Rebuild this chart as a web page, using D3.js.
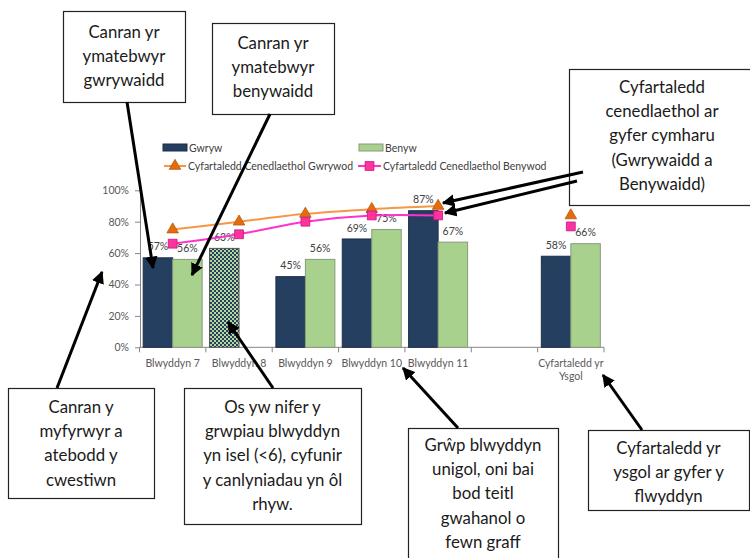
<!DOCTYPE html>
<html>
<head>
<meta charset="utf-8">
<script src="https://cdn.jsdelivr.net/npm/d3@7"></script>
<style>
  body{margin:0;background:#fff;}
  svg{font-family:Lato,"Open Sans",sans-serif;}
</style>
</head>
<body>
<svg width="750" height="558"></svg>
<script>
// categories on the x axis ('' is the empty slot before the school average)
const categories=['Blwyddyn 7','Blwyddyn 8','Blwyddyn 9','Blwyddyn 10','Blwyddyn 11','','Cyfartaledd yr Ysgol'];
const tickLabels=[['Blwyddyn 7'],['Blwyddyn 8'],['Blwyddyn 9'],['Blwyddyn 10'],['Blwyddyn 11'],[''],['Cyfartaledd yr','Ysgol']];
const gwryw=[57,null,45,69,87,null,58];
const benyw=[56,null,56,75,67,null,66];
// year 8 is too small, so boys+girls combined
const cyfunolCats=['Blwyddyn 8'];
const cyfunol=[63];
const cenedlGwrywod=[75,80,85,88,90,null,84];
const cenedlBenywod=[66,72,80,84,84,null,77];
const yTicks=[0,20,40,60,80,100];

const svg=d3.select('svg');
const navy='#243f60', green='#a9d18e', orange='#f79646', pink='#ff33cc';

const defs=svg.append('defs');
const pat=defs.append('pattern')
  .attr('id','check').attr('width',4).attr('height',4)
  .attr('patternUnits','userSpaceOnUse');
pat.append('rect').attr('width',4).attr('height',4).attr('fill','#b7d69a');
pat.append('rect').attr('width',2).attr('height',2).attr('fill',navy);
pat.append('rect').attr('x',2).attr('y',2).attr('width',2).attr('height',2).attr('fill',navy);

defs.append('marker')
  .attr('id','arrow').attr('viewBox','0 0 10 10')
  .attr('refX',9).attr('refY',5)
  .attr('markerWidth',4.2).attr('markerHeight',4.2)
  .attr('markerUnits','strokeWidth')
  .attr('orient','auto')
  .append('path').attr('d','M0,0 L10,5 L0,10 Z').attr('fill','#000');

const x=d3.scaleBand().domain(categories).range([139.5,604]).padding(0);
const inner=d3.scaleBand().domain(['g','b']).range([0,x.bandwidth()]).paddingOuter(0.125);
const y=d3.scaleLinear().domain([0,100]).range([347.3,190.3]);

// y axis
const yAxis=svg.append('g').attr('transform','translate(140,0)')
  .call(d3.axisLeft(y).tickValues(yTicks).tickFormat(d=>d+'%').tickSize(5).tickSizeOuter(0).tickPadding(6));
yAxis.select('.domain').attr('stroke','#868686');
yAxis.selectAll('.tick line').attr('stroke','#868686');
yAxis.selectAll('text').attr('fill','#595959').style('font-size','10.5px').style('font-family','Lato');

// x axis
const xAxis=svg.append('g').attr('transform','translate(0,347.3)');
xAxis.append('line').attr('x1',x.range()[0]).attr('x2',x.range()[1]).attr('stroke','#868686');
xAxis.selectAll('.bt').data(categories.concat(['end'])).enter().append('line')
  .attr('x1',(d,i)=>x.range()[0]+i*x.step()).attr('x2',(d,i)=>x.range()[0]+i*x.step())
  .attr('y1',0).attr('y2',5).attr('stroke','#868686');
const xl=xAxis.selectAll('.xl').data(categories).enter().append('text')
  .attr('text-anchor','middle').attr('fill','#595959').style('font-size','10.5px');
xl.each(function(d,i){
  d3.select(this).selectAll('tspan').data(tickLabels[i]).enter().append('tspan')
    .attr('x',x(d)+x.bandwidth()/2).attr('y',(t,j)=>20+j*13).text(t=>t);
});

// bars
const bars=svg.append('g');
function drawBars(vals,key,fill,stroke){
  const data=categories.map((c,i)=>({c,v:vals[i]})).filter(d=>d.v!=null);
  bars.selectAll('.b'+key).data(data).enter().append('rect')
    .attr('x',d=>x(d.c)+inner(key)).attr('width',inner.bandwidth())
    .attr('y',d=>y(d.v)).attr('height',d=>y(0)-y(d.v))
    .attr('fill',fill).attr('stroke',stroke).attr('stroke-width',1);
  bars.selectAll('.l'+key).data(data).enter().append('text')
    .attr('x',d=>x(d.c)+inner(key)+inner.bandwidth()/2)
    .attr('y',d=>y(d.v)-11).attr('dy','0.35em')
    .attr('text-anchor','middle').attr('fill','#404040').style('font-size','10.5px')
    .text(d=>d.v+'%');
}
drawBars(gwryw,'g',navy,'#1b2f48');
drawBars(benyw,'b',green,'#8a9a7e');
const cdata=cyfunolCats.map((c,i)=>({c,v:cyfunol[i]}));
bars.selectAll('.bc').data(cdata).enter().append('rect')
  .attr('x',d=>x(d.c)+inner('g')).attr('width',inner.bandwidth())
  .attr('y',d=>y(d.v)).attr('height',d=>y(0)-y(d.v))
  .attr('fill','url(#check)').attr('stroke','#555').attr('stroke-width',1);
bars.selectAll('.lc').data(cdata).enter().append('text')
  .attr('x',d=>x(d.c)+inner('g')+inner.bandwidth()/2)
  .attr('y',d=>y(d.v)-11).attr('dy','0.35em')
  .attr('text-anchor','middle').attr('fill','#404040').style('font-size','10.5px')
  .text(d=>d.v+'%');

// national average lines
const cx=c=>x(c)+x.bandwidth()/2;
const line=d3.line().defined(d=>d.v!=null).x(d=>cx(d.c)).y(d=>y(d.v)).curve(d3.curveCatmullRom);
const tri=d3.symbol().type(d3.symbolTriangle).size(58);
const sq=d3.symbol().type(d3.symbolSquare).size(78);
function drawNat(vals,color,sym,fill,stroke){
  const data=categories.map((c,i)=>({c,v:vals[i]}));
  svg.append('path').datum(data).attr('d',line).attr('fill','none').attr('stroke',color).attr('stroke-width',2);
  svg.selectAll(null).data(data.filter(d=>d.v!=null)).enter().append('path')
    .attr('d',sym).attr('transform',d=>`translate(${cx(d.c)},${y(d.v)})`)
    .attr('fill',fill).attr('stroke',stroke).attr('stroke-width',0.8);
}
drawNat(cenedlGwrywod,orange,tri,'#e46c0a','#b95a12');
drawNat(cenedlBenywod,pink,sq,'#ff3399','#c0138a');

// legend
const lg=svg.append('g').style('font-size','10.5px').attr('fill','#404040');
lg.append('rect').attr('x',163).attr('y',144).attr('width',24).attr('height',7).attr('fill',navy).attr('stroke','#1b2f48');
lg.append('text').attr('x',189).attr('y',148).attr('dy','0.35em').text('Gwryw');
lg.append('rect').attr('x',359).attr('y',144).attr('width',24).attr('height',7).attr('fill',green).attr('stroke','#8a9a7e');
lg.append('text').attr('x',385).attr('y',148).attr('dy','0.35em').text('Benyw');
lg.append('line').attr('x1',164).attr('x2',186).attr('y1',166).attr('y2',166).attr('stroke',orange).attr('stroke-width',2);
lg.append('path').attr('d',tri).attr('transform','translate(175,166)').attr('fill','#e46c0a').attr('stroke','#b95a12').attr('stroke-width',0.8);
lg.append('text').attr('x',188).attr('y',166).attr('dy','0.35em').text('Cyfartaledd Cenedlaethol Gwrywod');
lg.append('line').attr('x1',358).attr('x2',381).attr('y1',166).attr('y2',166).attr('stroke',pink).attr('stroke-width',2);
lg.append('path').attr('d',sq).attr('transform','translate(369.5,166)').attr('fill','#ff3399').attr('stroke','#c0138a').attr('stroke-width',0.8);
lg.append('text').attr('x',383).attr('y',166).attr('dy','0.35em').text('Cyfartaledd Cenedlaethol Benywod');

// annotation boxes
const boxes=[
  {x:63,y:11,w:122,h:91,ty:32,lines:['Canran yr','ymatebwyr','gwrywaidd']},
  {x:212,y:23,w:122,h:91,ty:43,lines:['Canran yr','ymatebwyr','benywaidd']},
  {x:569,y:69,w:190,h:136,ty:87,lines:['Cyfartaledd','cenedlaethol ar','gyfer cymharu','(Gwrywaidd a','Benywaidd)'],cxm:662},
  {x:8,y:388,w:146,h:110,ty:407,lines:['Canran y','myfyrwyr a','atebodd y','cwestiwn']},
  {x:184,y:388,w:177,h:136,ty:407,lines:['Os yw nifer y','grwpiau blwyddyn','yn isel (<6), cyfunir','y canlyniadau yn ôl','rhyw.']},
  {x:408,y:428,w:150,h:140,ty:445,lines:['Grŵp blwyddyn','unigol, oni bai','bod teitl','gwahanol o','fewn graff']},
  {x:588,y:430,w:161,h:80,ty:448,lines:['Cyfartaledd yr','ysgol ar gyfer y','flwyddyn']}
];
const bg=svg.append('g');
boxes.forEach(b=>{
  bg.append('rect').attr('x',b.x+0.5).attr('y',b.y+0.5).attr('width',b.w).attr('height',b.h)
    .attr('fill','#fff').attr('stroke','#222').attr('stroke-width',1.2);
  const t=bg.append('text').attr('text-anchor','middle').attr('fill','#1a1a1a').style('font-size','16.8px');
  b.lines.forEach((l,j)=>t.append('tspan').attr('x',b.cxm||b.x+b.w/2).attr('y',b.ty+j*24.3).attr('dy','0.35em').text(l));
});

// arrows [from, to]
const arrows=[
  [[127,102],[153,268]],
  [[270,114],[192,275]],
  [[57,388],[102,272]],
  [[273,388],[228,322]],
  [[458,428],[403,368]],
  [[642,430],[603,375]],
  [[583,172],[443,203]],
  [[577,181],[445,213]]
];
svg.append('g').selectAll('line').data(arrows).enter().append('line')
  .attr('x1',d=>d[0][0]).attr('y1',d=>d[0][1]).attr('x2',d=>d[1][0]).attr('y2',d=>d[1][1])
  .attr('stroke','#000').attr('stroke-width',3).attr('marker-end','url(#arrow)');
</script>
</body>
</html>
